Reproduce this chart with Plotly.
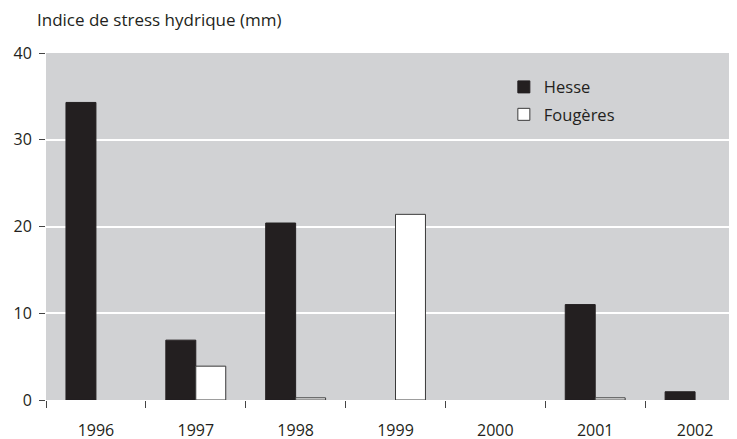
import plotly.graph_objects as go

years = ['1996', '1997', '1998', '1999', '2000', '2001', '2002']
hesse = [34.3, 6.9, 20.4, None, None, 11.0, 0.95]
fougeres = [None, 3.9, 0.25, 21.4, None, 0.25, None]
y_ticks = [0, 10, 20, 30, 40]

FONT = "Open Sans"
DARK = "#231f20"
GRAY = "#d1d2d4"

fig = go.Figure()
fig.add_trace(go.Bar(x=years, y=hesse, name="Hesse", legendgroup="a",
                     marker=dict(color=DARK, line=dict(color=DARK, width=1))))
fig.add_trace(go.Bar(x=years, y=fougeres, name="Fougères", legendgroup="b",
                     marker=dict(color="white", line=dict(color="#3a3a3a", width=1))))

fig.update_layout(
    width=737, height=439,
    margin=dict(l=38, r=0, t=45, b=47, autoexpand=False),
    paper_bgcolor="white", plot_bgcolor=GRAY,
    font=dict(family=FONT, size=16, color="#231f20"),
    barmode="group", bargap=0.4, bargroupgap=0,
    showlegend=True,
    legend=dict(x=0.655, y=0.952, xanchor="left", yanchor="top",
                bgcolor="rgba(0,0,0,0)", traceorder="grouped", tracegroupgap=3,
                font=dict(family=FONT, size=16.5, color="#231f20")),
    title=dict(text="Indice de stress hydrique (mm)", xref="container", yref="container",
               x=29/737, xanchor="left", y=1-12/439, yanchor="middle",
               font=dict(family=FONT, size=17, color="#231f20")),
)
fig.update_xaxes(type="category", tickson="boundaries", automargin=False,
                 ticks="outside", ticklen=7, tickcolor="#444", tickwidth=1,
                 showgrid=False, showline=False, zeroline=False,
                 ticklabelstandoff=19, tickfont=dict(size=16))
fig.update_yaxes(range=[0, 40], tickvals=y_ticks, ticks="outside", ticklen=6,
                 automargin=False,
                 tickcolor="#444", tickwidth=1, showgrid=True, gridcolor="white",
                 gridwidth=1.5, zeroline=False, showline=False,
                 ticklabelstandoff=4, tickfont=dict(size=16))

fig.write_html("out.html")
